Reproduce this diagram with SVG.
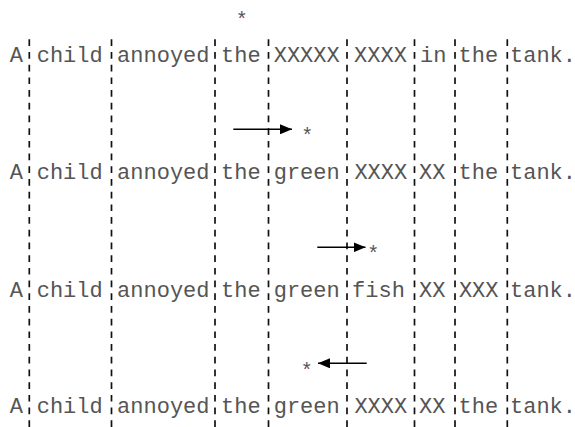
<svg xmlns="http://www.w3.org/2000/svg" width="575" height="427" viewBox="0 0 575 427">
<style>
  .w { font-family: "Liberation Mono", "Courier New", monospace; font-size: 22px; fill: #555; text-anchor: middle; }
  .star { font-family: "Liberation Mono", "Courier New", monospace; font-size: 20px; fill: #555; text-anchor: middle; }
  .sep { stroke: #111; stroke-width: 1.7; stroke-dasharray: 6.7 6; fill: none; }
  .arr { stroke: #000; stroke-width: 1.6; fill: none; }
</style>
<defs>
  <marker id="ah" markerWidth="12" markerHeight="10" refX="12" refY="5" orient="auto" markerUnits="userSpaceOnUse">
    <path d="M0,0 L12,5 L0,10 Z" fill="#000"/>
  </marker>
</defs>
<rect width="575" height="427" fill="#fff"/>
<g id="separators">
  <line class="sep" x1="29.3" y1="39.3" x2="29.3" y2="427"/>
  <line class="sep" x1="111.5" y1="39.3" x2="111.5" y2="427"/>
  <line class="sep" x1="215" y1="39.3" x2="215" y2="427"/>
  <line class="sep" x1="268.5" y1="39.3" x2="268.5" y2="427"/>
  <line class="sep" x1="347" y1="39.3" x2="347" y2="427"/>
  <line class="sep" x1="414.5" y1="39.3" x2="414.5" y2="427"/>
  <line class="sep" x1="455" y1="39.3" x2="455" y2="427"/>
  <line class="sep" x1="507.3" y1="39.3" x2="507.3" y2="427"/>
</g>
<g id="row1">
  <text class="w" x="16.3" y="62">A</text>
  <text class="w" x="69.7" y="62">child</text>
  <text class="w" x="163.3" y="62">annoyed</text>
  <text class="w" x="240.8" y="62">the</text>
  <text class="w" x="306.7" y="62">XXXXX</text>
  <text class="w" x="380.5" y="62">XXXX</text>
  <text class="w" x="433.3" y="62">in</text>
  <text class="w" x="478.3" y="62">the</text>
  <text class="w" x="543" y="62">tank.</text>
</g>
<g id="row2">
  <text class="w" x="16.3" y="179.3">A</text>
  <text class="w" x="69.7" y="179.3">child</text>
  <text class="w" x="163.3" y="179.3">annoyed</text>
  <text class="w" x="240.8" y="179.3">the</text>
  <text class="w" x="306.7" y="179.3">green</text>
  <text class="w" x="380.8" y="179.3">XXXX</text>
  <text class="w" x="432.2" y="179.3">XX</text>
  <text class="w" x="478.3" y="179.3">the</text>
  <text class="w" x="543" y="179.3">tank.</text>
</g>
<g id="row3">
  <text class="w" x="16.3" y="296.5">A</text>
  <text class="w" x="69.7" y="296.5">child</text>
  <text class="w" x="163.3" y="296.5">annoyed</text>
  <text class="w" x="240.8" y="296.5">the</text>
  <text class="w" x="306.7" y="296.5">green</text>
  <text class="w" x="378.5" y="296.5">fish</text>
  <text class="w" x="432.2" y="296.5">XX</text>
  <text class="w" x="478.7" y="296.5">XXX</text>
  <text class="w" x="543" y="296.5">tank.</text>
</g>
<g id="row4">
  <text class="w" x="16.3" y="413">A</text>
  <text class="w" x="69.7" y="413">child</text>
  <text class="w" x="163.3" y="413">annoyed</text>
  <text class="w" x="240.8" y="413">the</text>
  <text class="w" x="306.7" y="413">green</text>
  <text class="w" x="380.8" y="413">XXXX</text>
  <text class="w" x="432.2" y="413">XX</text>
  <text class="w" x="478.3" y="413">the</text>
  <text class="w" x="543" y="413">tank.</text>
</g>
<g id="stars">
  <text class="star" x="241.7" y="25.6">*</text>
  <text class="star" x="307.3" y="142.3">*</text>
  <text class="star" x="373.3" y="259.9">*</text>
  <text class="star" x="306.7" y="376.6">*</text>
</g>
<g id="connectors">
  <line class="arr" x1="233.3" y1="129.3" x2="292" y2="129.3" marker-end="url(#ah)"/>
  <line class="arr" x1="317.3" y1="247.3" x2="365.5" y2="247.3" marker-end="url(#ah)"/>
  <line class="arr" x1="366.7" y1="363.3" x2="318" y2="363.3" marker-end="url(#ah)"/>
</g>
</svg>
